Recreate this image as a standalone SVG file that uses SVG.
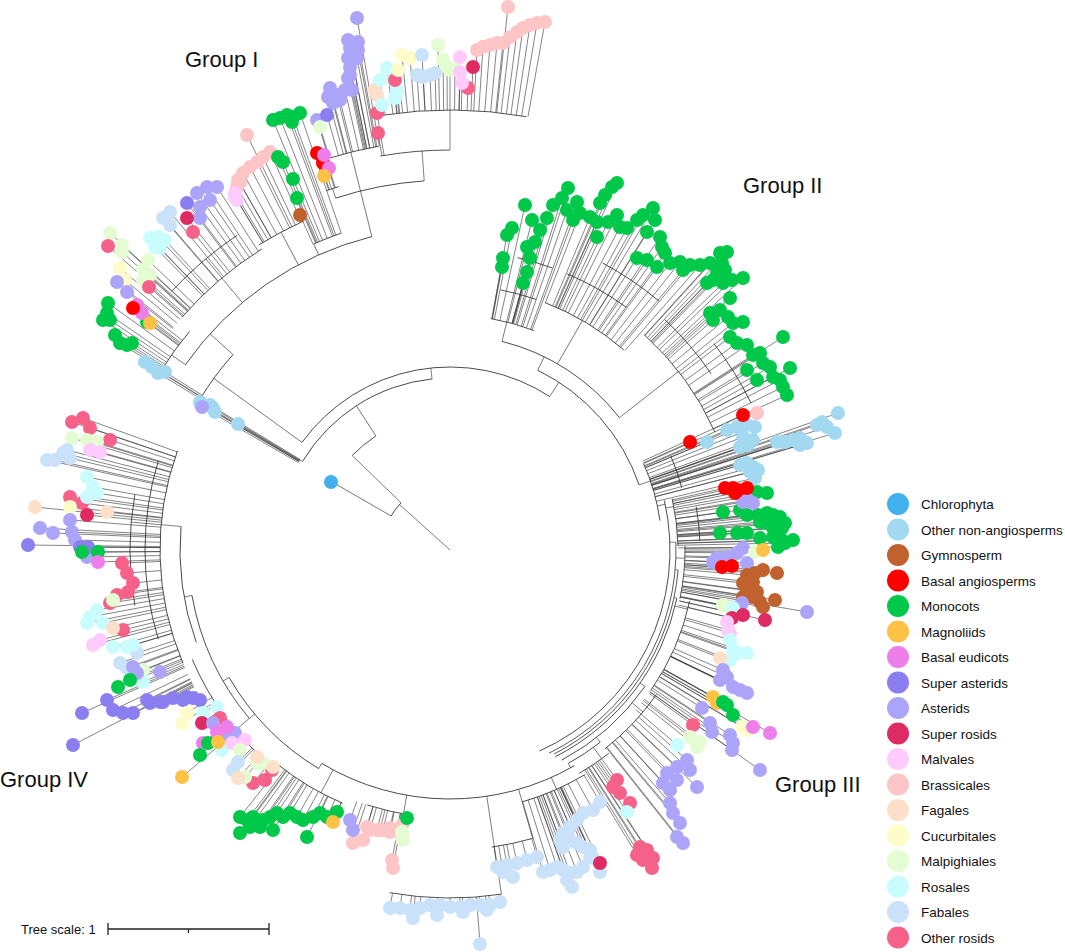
<svg xmlns="http://www.w3.org/2000/svg" width="1065" height="952" viewBox="0 0 1065 952">
<style>
.e{fill:none;stroke:#333;stroke-width:.8}
.e path{stroke-width:.6}
.n circle{r:7px}
.lg circle{r:11px}
text{font-family:"Liberation Sans",Arial,sans-serif;fill:#111}
.gl{font-size:22px}
.lt{font-size:13.5px}
.ch{fill:#41b0ec}.on{fill:#a3d9f0}.gy{fill:#c0612e}.ba{fill:#ff0000}.mo{fill:#00c94a}.ma{fill:#fdc146}.be{fill:#ee7ee9}.sa{fill:#8b7ef1}.as{fill:#aca4f9}.sr{fill:#df2b63}.mv{fill:#ffcbfd}.br{fill:#fdc5c6}.fa{fill:#fde0c9}.cu{fill:#fefcc9}.mp{fill:#e4fcd1}.ro{fill:#c9fcfd}.fb{fill:#cae1fa}.or{fill:#f56189}
.k175{stroke-dasharray:0 175 999}.k212{stroke-dasharray:0 212 999}.k228{stroke-dasharray:0 228 999}.k235{stroke-dasharray:0 235 999}.k245{stroke-dasharray:0 245 999}.k252{stroke-dasharray:0 252 999}.k258{stroke-dasharray:0 258 999}.k262{stroke-dasharray:0 262 999}.k265{stroke-dasharray:0 265 999}.k268{stroke-dasharray:0 268 999}.k275{stroke-dasharray:0 275 999}.k280{stroke-dasharray:0 280 999}.k290{stroke-dasharray:0 290 999}.k292{stroke-dasharray:0 292 999}.k300{stroke-dasharray:0 300 999}.k335{stroke-dasharray:0 335 999}.k340{stroke-dasharray:0 340 999}.k348{stroke-dasharray:0 348 999}.k355{stroke-dasharray:0 355 999}.k360{stroke-dasharray:0 360 999}.k380{stroke-dasharray:0 380 999}.k400{stroke-dasharray:0 400 999}.k410{stroke-dasharray:0 410 999}.k440{stroke-dasharray:0 440 999}
</style>
<rect width="1065" height="952" fill="#fff"/>
<g id="connectors" class="e">
<g id="backbone" transform="translate(450 550)">
<circle r="68" transform="rotate(210)" stroke-dasharray="16.6 3000"/>
<circle r="136" transform="rotate(224)" stroke-dasharray="30.9 3000"/>
<circle r="172" transform="rotate(211)" stroke-dasharray="159.1 3000"/>
<circle r="183" transform="rotate(216)" stroke-dasharray="277.9 3000"/>
<circle r="292" transform="rotate(211)" stroke-dasharray="56.1 3000"/>
<circle r="323" transform="rotate(215)" stroke-dasharray="231.1 3000"/>
<circle r="340" transform="rotate(212)" stroke-dasharray="47.5 3000"/>
<circle r="355" transform="rotate(221)" stroke-dasharray="105.3 3000"/>
<circle r="380" transform="rotate(223)" stroke-dasharray="86.2 3000"/>
<circle r="360" transform="rotate(238)" stroke-dasharray="50.3 3000"/>
<circle r="335" transform="rotate(246)" stroke-dasharray="29.2 3000"/>
<circle r="370" transform="rotate(252)" stroke-dasharray="90.4 3000"/>
<circle r="380" transform="rotate(251)" stroke-dasharray="13.3 3000"/>
<circle r="410" transform="rotate(253)" stroke-dasharray="50.1 3000"/>
<circle r="400" transform="rotate(260)" stroke-dasharray="69.8 3000"/>
<circle r="440" transform="rotate(261)" stroke-dasharray="145.9 3000"/>
<circle r="200" transform="rotate(296)" stroke-dasharray="157.1 3000"/>
<circle r="215" transform="rotate(284)" stroke-dasharray="142.6 3000"/>
<circle r="235" transform="rotate(280)" stroke-dasharray="45.1 3000"/>
<circle r="265" transform="rotate(281)" stroke-dasharray="37 3000"/>
<circle r="300" transform="rotate(283)" stroke-dasharray="36.7 3000"/>
<circle r="265" transform="rotate(291)" stroke-dasharray="92.5 3000"/>
<circle r="300" transform="rotate(293)" stroke-dasharray="68.1 3000"/>
<circle r="325" transform="rotate(298)" stroke-dasharray="68.1 3000"/>
<circle r="290" transform="rotate(312)" stroke-dasharray="121.5 3000"/>
<circle r="315" transform="rotate(313)" stroke-dasharray="71.5 3000"/>
<circle r="335" transform="rotate(322)" stroke-dasharray="70.2 3000"/>
<circle r="212" transform="rotate(336)" stroke-dasharray="59.2 3000"/>
<circle r="240" transform="rotate(337)" stroke-dasharray="33.5 3000"/>
<circle r="220" transform="rotate(347)" stroke-dasharray="303.3 3000"/>
<circle r="228" transform="rotate(347)" stroke-dasharray="47.8 3000"/>
<circle r="250" transform="rotate(350)" stroke-dasharray="34.9 3000"/>
<circle r="226" transform="rotate(358)" stroke-dasharray="260.3 3000"/>
<circle r="229" transform="rotate(5)" stroke-dasharray="231.8 3000"/>
<circle r="235" transform="rotate(359)" stroke-dasharray="53.3 3000"/>
<circle r="232" transform="rotate(12)" stroke-dasharray="206.5 3000"/>
<circle r="245" transform="rotate(12)" stroke-dasharray="98.3 3000"/>
<circle r="238" transform="rotate(35)" stroke-dasharray="112.2 3000"/>
<circle r="252" transform="rotate(35)" stroke-dasharray="74.8 3000"/>
<circle r="244" transform="rotate(52)" stroke-dasharray="38.3 3000"/>
<circle r="258" transform="rotate(52)" stroke-dasharray="36 3000"/>
<circle r="249" transform="rotate(60)" stroke-dasharray="265.1 3000"/>
<circle r="262" transform="rotate(59)" stroke-dasharray="68.6 3000"/>
<circle r="300" transform="rotate(74)" stroke-dasharray="41.9 3000"/>
<circle r="348" transform="rotate(81.5)" stroke-dasharray="112.4 3000"/>
<circle r="268" transform="rotate(98)" stroke-dasharray="46.8 3000"/>
<circle r="275" transform="rotate(113)" stroke-dasharray="76.8 3000"/>
<circle r="255" transform="rotate(121)" stroke-dasharray="129.1 3000"/>
<circle r="280" transform="rotate(129)" stroke-dasharray="136.8 3000"/>
<circle r="262" transform="rotate(140)" stroke-dasharray="137.2 3000"/>
<circle r="270" transform="rotate(160)" stroke-dasharray="117.8 3000"/>
<circle r="290" transform="rotate(157)" stroke-dasharray="217.6 3000"/>
<circle r="305" transform="rotate(163)" stroke-dasharray="181 3000"/>
<circle r="320" transform="rotate(170)" stroke-dasharray="111.7 3000"/>
<path transform="rotate(222)" d="M0 0H68"/>
<path transform="rotate(210)" d="M68 0H137"/>
<path transform="rotate(224)" d="M68 0H136"/>
<path transform="rotate(237)" d="M136 0H172"/>
<path transform="rotate(211)" d="M172 0H176"/>
<path transform="rotate(264)" d="M172 0H183"/>
<path transform="rotate(216)" d="M183 0H292"/>
<path transform="rotate(222)" d="M292 0H323"/>
<path transform="rotate(215)" d="M323 0H340"/>
<path transform="rotate(230)" d="M323 0H380"/>
<path transform="rotate(242)" d="M323 0H360"/>
<path transform="rotate(246)" d="M323 0H335"/>
<path transform="rotate(256)" d="M323 0H410"/>
<path transform="rotate(252)" d="M370 0H380"/>
<path transform="rotate(266)" d="M370 0H400"/>
<path transform="rotate(270)" d="M400 0H440"/>
<path transform="rotate(303)" d="M183 0H200"/>
<path transform="rotate(296)" d="M200 0H215"/>
<path transform="rotate(284)" d="M215 0H235"/>
<path transform="rotate(300)" d="M215 0H265"/>
<path transform="rotate(322)" d="M215 0H290"/>
<path transform="rotate(341)" d="M200 0H212"/>
<path transform="rotate(348)" d="M212 0H220"/>
<path transform="rotate(349)" d="M220 0H228"/>
<path transform="rotate(358)" d="M220 0H226"/>
<path transform="rotate(2)" d="M226 0H235"/>
<path transform="rotate(5)" d="M226 0H229"/>
<path transform="rotate(12)" d="M229 0H232"/>
<path transform="rotate(14)" d="M232 0H245"/>
<path transform="rotate(35)" d="M232 0H238"/>
<path transform="rotate(40)" d="M238 0H252"/>
<path transform="rotate(52)" d="M238 0H244"/>
<path transform="rotate(54)" d="M244 0H258"/>
<path transform="rotate(61)" d="M244 0H249"/>
<path transform="rotate(66)" d="M249 0H262"/>
<path transform="rotate(74)" d="M249 0H300"/>
<path transform="rotate(81.5)" d="M249 0H348"/>
<path transform="rotate(100)" d="M249 0H268"/>
<path transform="rotate(118)" d="M249 0H275"/>
<path transform="rotate(121)" d="M249 0H255"/>
<path transform="rotate(140)" d="M255 0H280"/>
<path transform="rotate(150)" d="M255 0H262"/>
<path transform="rotate(170)" d="M262 0H270"/>
<path transform="rotate(185)" d="M270 0H320"/>
</g>
<g id="leaf-edges">
<path class="k175" d="M450 550L238 424M450 550L213 408M450 550L201 404M450 550L215 412M450 550L210 405M450 550L200 402M450 550L202 407"/>
<path class="k292" d="M450 550L145 362M450 550L152 367M450 550L158 373M450 550L165 372"/>
<path class="k340" d="M450 550L108 303M450 550L107 313M450 550L110 320M450 550L103 320M450 550L115 335M450 550L120 343M450 550L127 345M450 550L132 343M450 550L147 322M450 550L137 305M450 550L142 313M450 550L133 308M450 550L150 323"/>
<path class="k355" d="M450 550L110 233M450 550L122 245M450 550L122 252M450 550L148 260M450 550L143 270M450 550L150 275M450 550L143 280M450 550L108 246M450 550L149 287M450 550L193 232M450 550L120 268M450 550L125 280M450 550L117 282M450 550L127 292M450 550L207 187M450 550L197 193M450 550L200 207M450 550L210 200M450 550L217 187M450 550L200 218M450 550L150 238M450 550L158 237M450 550L165 240M450 550L160 248M450 550L155 247M450 550L170 212M450 550L163 218M450 550L170 225M450 550L187 203M450 550L187 218"/>
<path class="k360" d="M450 550L247 135M450 550L270 152M450 550L263 157M450 550L257 162M450 550L250 167M450 550L243 173M450 550L238 180M450 550L237 187M450 550L240 183M450 550L235 193M450 550L237 200M450 550L235 197"/>
<path class="k335" d="M450 550L300 215M450 550L297 198M450 550L293 179M450 550L283 162M450 550L278 157M450 550L273 120M450 550L280 118M450 550L287 115M450 550L293 117M450 550L300 113M450 550L292 122"/>
<path class="k380" d="M450 550L317 153M450 550L323 163M450 550L324 155M450 550L329 168M450 550L324 176"/>
<path class="k410" d="M450 550L357 18M450 550L348 40M450 550L358 42M450 550L350 48M450 550L358 50M450 550L348 58M450 550L357 58M450 550L350 67M450 550L350 75M450 550L348 78M450 550L330 88M450 550L328 97M450 550L333 103M450 550L340 100M450 550L345 90M450 550L352 90M450 550L337 95M450 550L317 120M450 550L327 115M450 550L320 127"/>
<path class="k400" d="M450 550L378 133M450 550L377 113"/>
<path class="k440" d="M450 550L468 88M450 550L382 105M450 550L380 80M450 550L387 68M450 550L393 80M450 550L397 90M450 550L395 98M450 550L375 90M450 550L377 95M450 550L395 80M450 550L473 67M450 550L402 55M450 550L410 58M450 550L398 70M450 550L422 55M450 550L417 75M450 550L423 77M450 550L430 75M450 550L435 73M450 550L438 45M450 550L443 60M450 550L447 67M450 550L450 70M450 550L455 68M450 550L460 57M450 550L460 72M450 550L462 83M450 550L477 50M450 550L483 47M450 550L490 45M450 550L497 43M450 550L503 43M450 550L510 37M450 550L517 32M450 550L523 28M450 550L530 25M450 550L537 23M450 550L545 22M450 550L508 7"/>
<path class="k235" d="M450 550L525 205M450 550L512 228M450 550L507 235M450 550L503 258M450 550L502 267M450 550L527 272M450 550L523 283M450 550L530 258M450 550L527 247M450 550L535 242M450 550L540 230M450 550L532 220M450 550L547 218M450 550L553 205M450 550L562 198M450 550L568 188M450 550L577 202M450 550L567 210M450 550L573 220M450 550L743 548M450 550L737 553M450 550L727 557M450 550L717 558M450 550L713 562M450 550L747 563M450 550L742 603M450 550L807 612M450 550L755 552M450 550L723 605M450 550L730 607M450 550L763 550M450 550L722 567M450 550L732 566M450 550L747 575M450 550L755 573M450 550L763 570M450 550L777 573M450 550L743 583M450 550L753 582M450 550L747 590M450 550L757 592M450 550L743 597M450 550L752 597M450 550L760 602M450 550L763 607M450 550L775 600M450 550L733 608M450 550L732 618M450 550L743 615M450 550L765 620"/>
<path class="k265" d="M450 550L580 213M450 550L590 217M450 550L597 222M450 550L600 203M450 550L605 195M450 550L612 187M450 550L617 183M450 550L608 222M450 550L597 237M450 550L617 215M450 550L620 227M450 550L627 228M450 550L637 220M450 550L643 215M450 550L653 208M450 550L655 220M450 550L660 237M450 550L662 247M450 550L665 253M450 550L647 232M450 550L637 258M450 550L647 260M450 550L657 267M450 550L670 263M450 550L680 262M450 550L690 265M450 550L700 265M450 550L683 270"/>
<path class="k290" d="M450 550L710 263M450 550L720 253M450 550L727 252M450 550L722 263M450 550L725 270M450 550L717 273M450 550L713 280M450 550L723 283M450 550L732 280M450 550L743 278M450 550L707 283M450 550L730 298M450 550L710 313M450 550L713 320M450 550L720 310M450 550L728 317M450 550L733 323M450 550L743 322M450 550L730 337M450 550L737 343M450 550L747 345M450 550L753 355M450 550L760 353M450 550L763 363M450 550L770 367M450 550L773 377M450 550L780 380M450 550L783 387M450 550L787 395M450 550L747 370M450 550L757 380M450 550L783 337M450 550L790 368M450 550L150 703M450 550L163 702M450 550L173 698M450 550L183 700M450 550L193 698M450 550L107 700M450 550L113 710M450 550L123 713M450 550L133 713M450 550L147 700M450 550L160 702M450 550L187 697M450 550L82 713M450 550L73 745M450 550L72 422M450 550L83 418M450 550L90 428M450 550L110 440M450 550L70 497M450 550L82 503M450 550L122 563M450 550L127 573M450 550L133 583M450 550L128 592M450 550L117 595M450 550L110 603M450 550L123 630M450 550L72 438M450 550L87 440M450 550L97 442M450 550L113 600M450 550L143 670M450 550L90 450M450 550L100 452M450 550L100 640M450 550L93 645M450 550L47 460M450 550L55 460M450 550L63 453M450 550L67 450M450 550L70 458M450 550L137 653M450 550L120 663M450 550L127 668M450 550L87 477M450 550L93 487M450 550L87 497M450 550L97 493M450 550L90 617M450 550L97 610M450 550L103 623M450 550L87 623M450 550L113 647M450 550L127 647M450 550L133 645M450 550L143 682M450 550L35 507M450 550L107 512M450 550L113 628M450 550L70 507M450 550L87 515M450 550L70 520M450 550L72 532M450 550L75 540M450 550L53 533M450 550L40 528M450 550L87 557M450 550L133 667M450 550L137 673M450 550L160 672M450 550L28 545M450 550L80 547M450 550L88 547M450 550L82 552M450 550L98 552M450 550L130 680M450 550L118 687M450 550L98 562"/>
<path class="k212" d="M450 550L743 415M450 550L690 442M450 550L757 413M450 550L707 442M450 550L727 430M450 550L737 427M450 550L747 425M450 550L755 427M450 550L743 437M450 550L753 440M450 550L748 445M450 550L740 447M450 550L777 442M450 550L785 442M450 550L793 440M450 550L800 438M450 550L807 443M450 550L800 445M450 550L817 425M450 550L822 422M450 550L827 427M450 550L838 413M450 550L835 433M450 550L740 465M450 550L747 463M450 550L753 467M450 550L758 470M450 550L750 472M450 550L755 478"/>
<path class="k228" d="M450 550L725 488M450 550L733 488M450 550L738 490M450 550L747 488M450 550L735 493M450 550L757 492M450 550L767 493M450 550L723 512M450 550L740 510M450 550L747 515M450 550L758 515M450 550L767 513M450 550L773 515M450 550L780 517M450 550L785 523M450 550L767 523M450 550L760 522M450 550L773 528M450 550L782 528M450 550L720 533M450 550L737 533M450 550L747 533M450 550L760 538M450 550L773 537M450 550L782 540M450 550L785 543M450 550L793 540M450 550L778 547M450 550L748 500M450 550L753 503M450 550L743 502"/>
<path class="k245" d="M450 550L728 630M450 550L727 617M450 550L730 633M450 550L730 640M450 550L733 650M450 550L730 660M450 550L738 653M450 550L747 653M450 550L677 745M450 550L720 658M450 550L723 670M450 550L720 680M450 550L727 677M450 550L733 687M450 550L740 690M450 550L747 693M450 550L702 708M450 550L710 723M450 550L712 732M450 550L730 735M450 550L733 743M450 550L732 750M450 550L760 770M450 550L713 697M450 550L717 703M450 550L723 702M450 550L727 705M450 550L733 715M450 550L742 727M450 550L748 730M450 550L753 727M450 550L770 733M450 550L693 725M450 550L690 737M450 550L697 747M450 550L700 742"/>
<path class="k252" d="M450 550L687 760M450 550L677 767M450 550L667 773M450 550L663 783M450 550L670 790M450 550L677 780M450 550L690 770M450 550L697 787M450 550L670 803M450 550L673 813M450 550L680 823M450 550L677 837M450 550L683 843"/>
<path class="k258" d="M450 550L617 780M450 550L613 787M450 550L620 793M450 550L630 803M450 550L640 847M450 550L647 850M450 550L637 855M450 550L653 858M450 550L652 868M450 550L643 860M450 550L627 812"/>
<path class="k262" d="M450 550L600 802M450 550L593 810M450 550L583 813M450 550L577 820M450 550L570 827M450 550L563 833M450 550L560 840M450 550L563 847M450 550L570 840M450 550L577 843M450 550L583 847M450 550L590 850M450 550L590 857M450 550L583 867M450 550L577 872M450 550L570 873M450 550L563 870M450 550L557 867M450 550L550 870M450 550L543 872M450 550L567 880M450 550L572 887M450 550L593 858M450 550L600 872M450 550L600 863"/>
<path class="k300" d="M450 550L537 857M450 550L527 860M450 550L517 863M450 550L507 865M450 550L497 867M450 550L503 872M450 550L513 877"/>
<path class="k348" d="M450 550L500 902M450 550L490 905M450 550L480 905M450 550L470 905M450 550L460 907M450 550L450 907M450 550L440 905M450 550L430 905M450 550L420 908M450 550L410 910M450 550L400 908M450 550L390 908M450 550L413 918M450 550L437 915M450 550L463 912M450 550L487 910M450 550L480 944"/>
<path class="k268" d="M450 550L370 830M450 550L377 830M450 550L383 830M450 550L390 832M450 550L397 830M450 550L402 825M450 550L392 860M450 550L393 868M450 550L367 827M450 550L380 830M450 550L390 828M450 550L353 843M450 550L363 840M450 550L407 818M450 550L402 832M450 550L402 838M450 550L403 840M450 550L350 820M450 550L353 830"/>
<path class="k275" d="M450 550L240 817M450 550L247 820M450 550L253 817M450 550L263 820M450 550L270 817M450 550L277 813M450 550L283 817M450 550L290 813M450 550L297 817M450 550L303 820M450 550L313 817M450 550L320 813M450 550L327 817M450 550L240 833M450 550L250 827M450 550L260 827M450 550L273 830M450 550L307 837M450 550L337 812M450 550L333 822"/>
<path class="k280" d="M450 550L187 713M450 550L182 723M450 550L203 713M450 550L217 707M450 550L222 750M450 550L202 723M450 550L220 718M450 550L253 783M450 550L265 780M450 550L272 770M450 550L213 723M450 550L227 735M450 550L235 733M450 550L217 732M450 550L203 743M450 550L227 727M450 550L208 743M450 550L200 755M450 550L218 742M450 550L182 777M450 550L232 743M450 550L245 740M450 550L240 750M450 550L257 763M450 550L263 763M450 550L245 777M450 550L238 762M450 550L233 770M450 550L257 757M450 550L273 767M450 550L238 778"/>
</g>
</g>
<g id="chlorophyta" class="n"><circle class="ch" cx="331" cy="482"/></g>
<g id="group-I" class="n">
<g class="on"><circle cx="238" cy="424"/><circle cx="213" cy="408"/><circle cx="201" cy="404"/><circle cx="215" cy="412"/><circle cx="210" cy="405"/><circle cx="200" cy="402"/><circle cx="145" cy="362"/><circle cx="152" cy="367"/><circle cx="158" cy="373"/><circle cx="165" cy="372"/></g>
<g class="as"><circle cx="202" cy="407"/></g>
<g class="mo"><circle cx="108" cy="303"/><circle cx="107" cy="313"/><circle cx="110" cy="320"/><circle cx="103" cy="320"/><circle cx="115" cy="335"/><circle cx="120" cy="343"/><circle cx="127" cy="345"/><circle cx="132" cy="343"/><circle cx="147" cy="322"/></g>
<g class="be"><circle cx="137" cy="305"/><circle cx="142" cy="313"/></g>
<g class="ba"><circle cx="133" cy="308"/></g>
<g class="ma"><circle cx="150" cy="323"/></g>
<g class="mp"><circle cx="110" cy="233"/><circle cx="122" cy="245"/><circle cx="122" cy="252"/><circle cx="148" cy="260"/><circle cx="143" cy="270"/><circle cx="150" cy="275"/><circle cx="143" cy="280"/></g>
<g class="or"><circle cx="108" cy="246"/><circle cx="149" cy="287"/><circle cx="193" cy="232"/></g>
<g class="cu"><circle cx="120" cy="268"/><circle cx="125" cy="280"/></g>
<g class="as"><circle cx="117" cy="282"/><circle cx="127" cy="292"/><circle cx="207" cy="187"/><circle cx="197" cy="193"/><circle cx="200" cy="207"/><circle cx="210" cy="200"/><circle cx="217" cy="187"/><circle cx="200" cy="218"/></g>
<g class="ro"><circle cx="150" cy="238"/><circle cx="158" cy="237"/><circle cx="165" cy="240"/><circle cx="160" cy="248"/><circle cx="155" cy="247"/></g>
<g class="fb"><circle cx="170" cy="212"/><circle cx="163" cy="218"/><circle cx="170" cy="225"/></g>
<g class="sa"><circle cx="187" cy="203"/></g>
<g class="sr"><circle cx="187" cy="218"/></g>
<g class="br"><circle cx="247" cy="135"/><circle cx="270" cy="152"/><circle cx="263" cy="157"/><circle cx="257" cy="162"/><circle cx="250" cy="167"/><circle cx="243" cy="173"/><circle cx="238" cy="180"/><circle cx="237" cy="187"/><circle cx="240" cy="183"/></g>
<g class="mv"><circle cx="235" cy="193"/><circle cx="237" cy="200"/><circle cx="235" cy="197"/></g>
<g class="gy"><circle cx="300" cy="215"/></g>
<g class="mo"><circle cx="297" cy="198"/><circle cx="293" cy="179"/><circle cx="283" cy="162"/><circle cx="278" cy="157"/><circle cx="273" cy="120"/><circle cx="280" cy="118"/><circle cx="287" cy="115"/><circle cx="293" cy="117"/><circle cx="300" cy="113"/><circle cx="292" cy="122"/></g>
<g class="ba"><circle cx="317" cy="153"/><circle cx="323" cy="163"/></g>
<g class="be"><circle cx="324" cy="155"/><circle cx="329" cy="168"/></g>
<g class="ma"><circle cx="324" cy="176"/></g>
<g class="as"><circle cx="357" cy="18"/><circle cx="348" cy="40"/><circle cx="358" cy="42"/><circle cx="350" cy="48"/><circle cx="358" cy="50"/><circle cx="348" cy="58"/><circle cx="357" cy="58"/><circle cx="350" cy="67"/><circle cx="350" cy="75"/><circle cx="348" cy="78"/><circle cx="330" cy="88"/><circle cx="328" cy="97"/><circle cx="333" cy="103"/><circle cx="340" cy="100"/><circle cx="345" cy="90"/><circle cx="352" cy="90"/><circle cx="337" cy="95"/><circle cx="317" cy="120"/></g>
<g class="sa"><circle cx="327" cy="115"/></g>
<g class="mp"><circle cx="320" cy="127"/></g>
<g class="or"><circle cx="378" cy="133"/><circle cx="377" cy="113"/><circle cx="468" cy="88"/></g>
<g class="fa"><circle cx="375" cy="90"/><circle cx="377" cy="95"/></g>
<g class="ro"><circle cx="382" cy="105"/><circle cx="380" cy="80"/><circle cx="387" cy="68"/><circle cx="393" cy="80"/><circle cx="397" cy="90"/><circle cx="395" cy="98"/></g>
<g class="or"><circle cx="395" cy="80"/></g>
<g class="cu"><circle cx="402" cy="55"/><circle cx="410" cy="58"/><circle cx="398" cy="70"/></g>
<g class="fb"><circle cx="422" cy="55"/><circle cx="417" cy="75"/><circle cx="423" cy="77"/><circle cx="430" cy="75"/><circle cx="435" cy="73"/></g>
<g class="mp"><circle cx="438" cy="45"/><circle cx="443" cy="60"/><circle cx="447" cy="67"/><circle cx="450" cy="70"/><circle cx="455" cy="68"/></g>
<g class="mv"><circle cx="460" cy="57"/><circle cx="460" cy="72"/><circle cx="462" cy="83"/></g>
<g class="sr"><circle cx="473" cy="67"/></g>
<g class="br"><circle cx="477" cy="50"/><circle cx="483" cy="47"/><circle cx="490" cy="45"/><circle cx="497" cy="43"/><circle cx="503" cy="43"/><circle cx="510" cy="37"/><circle cx="517" cy="32"/><circle cx="523" cy="28"/><circle cx="530" cy="25"/><circle cx="537" cy="23"/><circle cx="545" cy="22"/><circle cx="508" cy="7"/></g>
</g>
<g id="group-II" class="n"><g class="mo">
<circle cx="525" cy="205"/><circle cx="512" cy="228"/><circle cx="507" cy="235"/><circle cx="503" cy="258"/><circle cx="502" cy="267"/><circle cx="527" cy="272"/><circle cx="523" cy="283"/><circle cx="530" cy="258"/><circle cx="527" cy="247"/><circle cx="535" cy="242"/><circle cx="540" cy="230"/><circle cx="532" cy="220"/><circle cx="547" cy="218"/><circle cx="553" cy="205"/><circle cx="562" cy="198"/><circle cx="568" cy="188"/><circle cx="577" cy="202"/><circle cx="567" cy="210"/><circle cx="573" cy="220"/>
<circle cx="580" cy="213"/><circle cx="590" cy="217"/><circle cx="597" cy="222"/><circle cx="600" cy="203"/><circle cx="605" cy="195"/><circle cx="612" cy="187"/><circle cx="617" cy="183"/><circle cx="608" cy="222"/><circle cx="597" cy="237"/><circle cx="617" cy="215"/><circle cx="620" cy="227"/><circle cx="627" cy="228"/><circle cx="637" cy="220"/><circle cx="643" cy="215"/><circle cx="653" cy="208"/><circle cx="655" cy="220"/><circle cx="660" cy="237"/><circle cx="662" cy="247"/><circle cx="665" cy="253"/><circle cx="647" cy="232"/><circle cx="637" cy="258"/><circle cx="647" cy="260"/><circle cx="657" cy="267"/><circle cx="670" cy="263"/><circle cx="680" cy="262"/><circle cx="690" cy="265"/><circle cx="700" cy="265"/><circle cx="683" cy="270"/>
<circle cx="710" cy="263"/><circle cx="720" cy="253"/><circle cx="727" cy="252"/><circle cx="722" cy="263"/><circle cx="725" cy="270"/><circle cx="717" cy="273"/><circle cx="713" cy="280"/><circle cx="723" cy="283"/><circle cx="732" cy="280"/><circle cx="743" cy="278"/><circle cx="707" cy="283"/><circle cx="730" cy="298"/><circle cx="710" cy="313"/><circle cx="713" cy="320"/><circle cx="720" cy="310"/><circle cx="728" cy="317"/><circle cx="733" cy="323"/><circle cx="743" cy="322"/><circle cx="730" cy="337"/><circle cx="737" cy="343"/><circle cx="747" cy="345"/><circle cx="753" cy="355"/><circle cx="760" cy="353"/><circle cx="763" cy="363"/><circle cx="770" cy="367"/><circle cx="773" cy="377"/><circle cx="780" cy="380"/><circle cx="783" cy="387"/><circle cx="787" cy="395"/><circle cx="747" cy="370"/><circle cx="757" cy="380"/><circle cx="783" cy="337"/><circle cx="790" cy="368"/>
</g></g>
<g id="group-III" class="n">
<g class="on"><circle cx="707" cy="442"/><circle cx="727" cy="430"/><circle cx="737" cy="427"/><circle cx="747" cy="425"/><circle cx="755" cy="427"/><circle cx="743" cy="437"/><circle cx="753" cy="440"/><circle cx="748" cy="445"/><circle cx="740" cy="447"/><circle cx="777" cy="442"/><circle cx="785" cy="442"/><circle cx="793" cy="440"/><circle cx="800" cy="438"/><circle cx="807" cy="443"/><circle cx="800" cy="445"/><circle cx="817" cy="425"/><circle cx="822" cy="422"/><circle cx="827" cy="427"/><circle cx="838" cy="413"/><circle cx="835" cy="433"/><circle cx="740" cy="465"/><circle cx="747" cy="463"/><circle cx="753" cy="467"/><circle cx="758" cy="470"/><circle cx="750" cy="472"/><circle cx="755" cy="478"/></g>
<g class="ba"><circle cx="743" cy="415"/><circle cx="690" cy="442"/></g>
<g class="br"><circle cx="757" cy="413"/></g>
<g class="mo"><circle cx="757" cy="492"/><circle cx="767" cy="493"/><circle cx="723" cy="512"/><circle cx="740" cy="510"/><circle cx="747" cy="515"/><circle cx="758" cy="515"/><circle cx="767" cy="513"/><circle cx="773" cy="515"/><circle cx="780" cy="517"/><circle cx="785" cy="523"/><circle cx="767" cy="523"/><circle cx="760" cy="522"/><circle cx="773" cy="528"/><circle cx="782" cy="528"/><circle cx="720" cy="533"/><circle cx="737" cy="533"/><circle cx="747" cy="533"/><circle cx="760" cy="538"/><circle cx="773" cy="537"/><circle cx="782" cy="540"/><circle cx="785" cy="543"/><circle cx="793" cy="540"/><circle cx="778" cy="547"/></g>
<g class="as"><circle cx="748" cy="500"/><circle cx="753" cy="503"/><circle cx="743" cy="502"/></g>
<g class="ba"><circle cx="725" cy="488"/><circle cx="733" cy="488"/><circle cx="738" cy="490"/><circle cx="747" cy="488"/><circle cx="735" cy="493"/></g>
<g class="as"><circle cx="743" cy="548"/><circle cx="737" cy="553"/><circle cx="727" cy="557"/><circle cx="717" cy="558"/><circle cx="713" cy="562"/><circle cx="747" cy="563"/><circle cx="807" cy="612"/></g>
<g class="mp"><circle cx="755" cy="552"/><circle cx="723" cy="605"/><circle cx="730" cy="607"/></g>
<g class="ma"><circle cx="763" cy="550"/></g>
<g class="ba"><circle cx="722" cy="567"/><circle cx="732" cy="566"/></g>
<g class="gy"><circle cx="747" cy="575"/><circle cx="755" cy="573"/><circle cx="763" cy="570"/><circle cx="777" cy="573"/><circle cx="743" cy="583"/><circle cx="753" cy="582"/><circle cx="747" cy="590"/><circle cx="757" cy="592"/><circle cx="743" cy="597"/><circle cx="752" cy="597"/><circle cx="760" cy="602"/><circle cx="763" cy="607"/><circle cx="775" cy="600"/></g>
<g class="as"><circle cx="742" cy="603"/></g>
<g class="ro"><circle cx="733" cy="608"/></g>
<g class="sr"><circle cx="732" cy="618"/><circle cx="743" cy="615"/><circle cx="765" cy="620"/></g>
<g class="mv"><circle cx="728" cy="630"/><circle cx="727" cy="622"/><circle cx="730" cy="633"/></g>
<g class="ro"><circle cx="730" cy="640"/><circle cx="733" cy="650"/><circle cx="730" cy="660"/><circle cx="738" cy="653"/><circle cx="747" cy="653"/><circle cx="677" cy="745"/></g>
<g class="fa"><circle cx="720" cy="658"/></g>
<g class="as"><circle cx="723" cy="670"/><circle cx="720" cy="680"/><circle cx="727" cy="677"/><circle cx="733" cy="687"/><circle cx="740" cy="690"/><circle cx="747" cy="693"/><circle cx="702" cy="708"/><circle cx="710" cy="723"/><circle cx="712" cy="732"/><circle cx="730" cy="735"/><circle cx="733" cy="743"/><circle cx="732" cy="750"/><circle cx="760" cy="770"/></g>
<g class="ma"><circle cx="713" cy="697"/><circle cx="717" cy="703"/></g>
<g class="mo"><circle cx="723" cy="702"/><circle cx="727" cy="705"/><circle cx="733" cy="715"/></g>
<g class="cu"><circle cx="742" cy="727"/><circle cx="748" cy="730"/></g>
<g class="be"><circle cx="753" cy="727"/><circle cx="770" cy="733"/></g>
<g class="or"><circle cx="693" cy="725"/></g>
<g class="mp"><circle cx="690" cy="737"/><circle cx="697" cy="747"/><circle cx="700" cy="742"/></g>
<g class="as"><circle cx="687" cy="760"/><circle cx="677" cy="767"/><circle cx="667" cy="773"/><circle cx="663" cy="783"/><circle cx="670" cy="790"/><circle cx="677" cy="780"/><circle cx="690" cy="770"/><circle cx="697" cy="787"/><circle cx="670" cy="803"/><circle cx="673" cy="813"/><circle cx="680" cy="823"/><circle cx="677" cy="837"/><circle cx="683" cy="843"/></g>
<g class="or"><circle cx="617" cy="780"/><circle cx="613" cy="787"/><circle cx="620" cy="793"/><circle cx="630" cy="803"/><circle cx="640" cy="847"/><circle cx="647" cy="850"/><circle cx="637" cy="855"/><circle cx="653" cy="858"/><circle cx="652" cy="868"/><circle cx="643" cy="860"/></g>
<g class="ro"><circle cx="627" cy="812"/></g>
<g class="fb"><circle cx="600" cy="802"/><circle cx="593" cy="810"/><circle cx="583" cy="813"/><circle cx="577" cy="820"/><circle cx="570" cy="827"/><circle cx="563" cy="833"/><circle cx="560" cy="840"/><circle cx="563" cy="847"/><circle cx="570" cy="840"/><circle cx="577" cy="843"/><circle cx="583" cy="847"/><circle cx="590" cy="850"/><circle cx="590" cy="857"/><circle cx="583" cy="867"/><circle cx="577" cy="872"/><circle cx="570" cy="873"/><circle cx="563" cy="870"/><circle cx="557" cy="867"/><circle cx="550" cy="870"/><circle cx="543" cy="872"/><circle cx="567" cy="880"/><circle cx="572" cy="887"/><circle cx="593" cy="858"/><circle cx="600" cy="872"/><circle cx="537" cy="857"/><circle cx="527" cy="860"/><circle cx="517" cy="863"/><circle cx="507" cy="865"/><circle cx="497" cy="867"/><circle cx="503" cy="872"/><circle cx="513" cy="877"/><circle cx="500" cy="902"/><circle cx="490" cy="905"/><circle cx="480" cy="905"/><circle cx="470" cy="905"/><circle cx="460" cy="907"/><circle cx="450" cy="907"/><circle cx="440" cy="905"/><circle cx="430" cy="905"/><circle cx="420" cy="908"/><circle cx="410" cy="910"/><circle cx="400" cy="908"/><circle cx="390" cy="908"/><circle cx="413" cy="918"/><circle cx="437" cy="915"/><circle cx="463" cy="912"/><circle cx="487" cy="910"/><circle cx="480" cy="944"/></g>
<g class="sr"><circle cx="600" cy="863"/></g>
</g>
<g id="group-IV" class="n">
<g class="br"><circle cx="370" cy="830"/><circle cx="377" cy="830"/><circle cx="383" cy="830"/><circle cx="390" cy="832"/><circle cx="397" cy="830"/><circle cx="402" cy="825"/><circle cx="392" cy="860"/><circle cx="393" cy="868"/><circle cx="367" cy="827"/><circle cx="380" cy="830"/><circle cx="390" cy="828"/><circle cx="353" cy="843"/><circle cx="363" cy="840"/></g>
<g class="mo"><circle cx="407" cy="818"/></g>
<g class="mp"><circle cx="402" cy="832"/><circle cx="402" cy="838"/><circle cx="403" cy="840"/></g>
<g class="as"><circle cx="350" cy="820"/><circle cx="353" cy="830"/></g>
<g class="mo"><circle cx="240" cy="817"/><circle cx="247" cy="820"/><circle cx="253" cy="817"/><circle cx="263" cy="820"/><circle cx="270" cy="817"/><circle cx="277" cy="813"/><circle cx="283" cy="817"/><circle cx="290" cy="813"/><circle cx="297" cy="817"/><circle cx="303" cy="820"/><circle cx="313" cy="817"/><circle cx="320" cy="813"/><circle cx="327" cy="817"/><circle cx="240" cy="833"/><circle cx="250" cy="827"/><circle cx="260" cy="827"/><circle cx="273" cy="830"/><circle cx="307" cy="837"/><circle cx="337" cy="812"/></g>
<g class="ma"><circle cx="333" cy="822"/></g>
<g class="sa"><circle cx="150" cy="703"/><circle cx="163" cy="702"/><circle cx="173" cy="698"/><circle cx="183" cy="700"/><circle cx="193" cy="698"/><circle cx="200" cy="700"/><circle cx="107" cy="700"/><circle cx="113" cy="710"/><circle cx="123" cy="713"/><circle cx="133" cy="713"/><circle cx="147" cy="700"/><circle cx="160" cy="702"/><circle cx="187" cy="697"/><circle cx="82" cy="713"/><circle cx="73" cy="745"/></g>
<g class="cu"><circle cx="187" cy="713"/><circle cx="182" cy="723"/></g>
<g class="ro"><circle cx="203" cy="713"/><circle cx="217" cy="707"/><circle cx="222" cy="750"/></g>
<g class="sr"><circle cx="202" cy="723"/></g>
<g class="or"><circle cx="220" cy="718"/><circle cx="253" cy="783"/><circle cx="265" cy="780"/><circle cx="272" cy="770"/></g>
<g class="as"><circle cx="213" cy="723"/><circle cx="227" cy="735"/><circle cx="235" cy="733"/></g>
<g class="be"><circle cx="217" cy="732"/><circle cx="203" cy="743"/><circle cx="227" cy="727"/></g>
<g class="mo"><circle cx="208" cy="743"/><circle cx="200" cy="755"/></g>
<g class="ma"><circle cx="218" cy="742"/><circle cx="182" cy="777"/></g>
<g class="mv"><circle cx="232" cy="743"/><circle cx="245" cy="740"/></g>
<g class="mp"><circle cx="240" cy="750"/><circle cx="257" cy="763"/><circle cx="263" cy="763"/><circle cx="245" cy="777"/></g>
<g class="fb"><circle cx="238" cy="762"/><circle cx="233" cy="770"/></g>
<g class="fa"><circle cx="257" cy="757"/><circle cx="273" cy="767"/><circle cx="238" cy="778"/></g>
<g class="or"><circle cx="72" cy="422"/><circle cx="83" cy="418"/><circle cx="90" cy="428"/><circle cx="110" cy="440"/><circle cx="70" cy="497"/><circle cx="82" cy="503"/><circle cx="122" cy="563"/><circle cx="127" cy="573"/><circle cx="133" cy="583"/><circle cx="128" cy="592"/><circle cx="117" cy="595"/><circle cx="110" cy="603"/><circle cx="123" cy="630"/></g>
<g class="mp"><circle cx="72" cy="438"/><circle cx="87" cy="440"/><circle cx="97" cy="442"/><circle cx="113" cy="600"/><circle cx="143" cy="670"/></g>
<g class="mv"><circle cx="90" cy="450"/><circle cx="100" cy="452"/><circle cx="100" cy="640"/><circle cx="93" cy="645"/></g>
<g class="fb"><circle cx="47" cy="460"/><circle cx="55" cy="460"/><circle cx="63" cy="453"/><circle cx="67" cy="450"/><circle cx="70" cy="458"/><circle cx="137" cy="653"/><circle cx="120" cy="663"/><circle cx="127" cy="668"/></g>
<g class="ro"><circle cx="87" cy="477"/><circle cx="93" cy="487"/><circle cx="87" cy="497"/><circle cx="97" cy="493"/><circle cx="90" cy="617"/><circle cx="97" cy="610"/><circle cx="103" cy="623"/><circle cx="87" cy="623"/><circle cx="113" cy="647"/><circle cx="127" cy="647"/><circle cx="133" cy="645"/><circle cx="143" cy="682"/></g>
<g class="fa"><circle cx="35" cy="507"/><circle cx="107" cy="512"/><circle cx="113" cy="628"/></g>
<g class="cu"><circle cx="70" cy="507"/></g>
<g class="sr"><circle cx="87" cy="515"/></g>
<g class="as"><circle cx="70" cy="520"/><circle cx="72" cy="532"/><circle cx="75" cy="540"/><circle cx="53" cy="533"/><circle cx="40" cy="528"/><circle cx="87" cy="557"/><circle cx="133" cy="667"/><circle cx="137" cy="673"/><circle cx="160" cy="672"/></g>
<g class="sa"><circle cx="28" cy="545"/><circle cx="80" cy="547"/><circle cx="88" cy="547"/></g>
<g class="mo"><circle cx="82" cy="552"/><circle cx="98" cy="552"/><circle cx="130" cy="680"/><circle cx="118" cy="687"/></g>
<g class="be"><circle cx="98" cy="562"/></g>
</g>
<g id="labels" class="gl">
<text x="185" y="67">Group I</text>
<text x="743" y="193">Group II</text>
<text x="775" y="792">Group III</text>
<text x="0" y="787">Group IV</text>
</g>
<g id="legend" class="lg lt">
<circle class="ch" cx="898" cy="504"/><text x="921" y="509">Chlorophyta</text>
<circle class="on" cx="898" cy="529.5"/><text x="921" y="534.5">Other non-angiosperms</text>
<circle class="gy" cx="898" cy="555"/><text x="921" y="560">Gymnosperm</text>
<circle class="ba" cx="898" cy="580.5"/><text x="921" y="585.5">Basal angiosperms</text>
<circle class="mo" cx="898" cy="606"/><text x="921" y="611">Monocots</text>
<circle class="ma" cx="898" cy="631.5"/><text x="921" y="636.5">Magnoliids</text>
<circle class="be" cx="898" cy="657"/><text x="921" y="662">Basal eudicots</text>
<circle class="sa" cx="898" cy="682.5"/><text x="921" y="687.5">Super asterids</text>
<circle class="as" cx="898" cy="708"/><text x="921" y="713">Asterids</text>
<circle class="sr" cx="898" cy="733.5"/><text x="921" y="738.5">Super rosids</text>
<circle class="mv" cx="898" cy="759"/><text x="921" y="764">Malvales</text>
<circle class="br" cx="898" cy="784.5"/><text x="921" y="789.5">Brassicales</text>
<circle class="fa" cx="898" cy="810"/><text x="921" y="815">Fagales</text>
<circle class="cu" cx="898" cy="835.5"/><text x="921" y="840.5">Cucurbitales</text>
<circle class="mp" cx="898" cy="861"/><text x="921" y="866">Malpighiales</text>
<circle class="ro" cx="898" cy="886.5"/><text x="921" y="891.5">Rosales</text>
<circle class="fb" cx="898" cy="912"/><text x="921" y="917">Fabales</text>
<circle class="or" cx="898" cy="937.5"/><text x="921" y="942.5">Other rosids</text>
</g>
<g id="scale">
<text x="21" y="934" font-size="13">Tree scale: 1</text>
<path d="M108 929H269M108 923V935M269 923V935M188.5 929V933" fill="none" stroke="#222" stroke-width="1.3"/>
</g>
</svg>
